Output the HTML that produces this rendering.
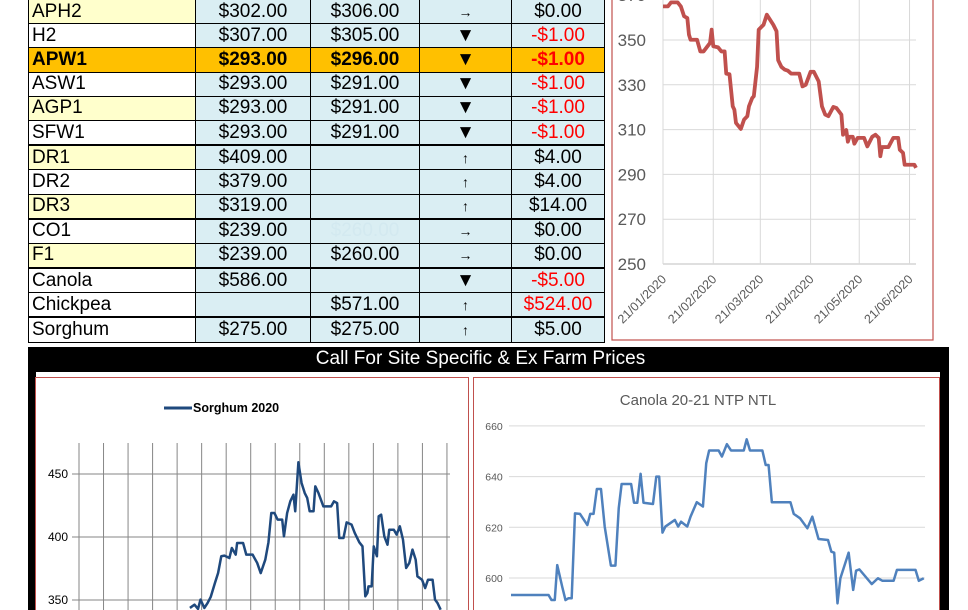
<!DOCTYPE html>
<html><head><meta charset="utf-8"><style>
body{margin:0;width:968px;height:610px;overflow:hidden;background:#fff;font-family:"Liberation Sans",sans-serif;position:relative}
#tbl{position:absolute;left:28px;top:-1px;border-collapse:collapse;table-layout:fixed}
#tbl td{border:1.5px solid #000;height:23.2px;padding:0;font-size:19px;line-height:20px;text-align:center;background:#daeef3;color:#000;overflow:hidden;white-space:nowrap}
#tbl td.n{text-align:left;padding-left:3px;background:#fff}
#tbl td.y{background:#ffffcc}
#tbl tr.hl td{background:#ffc000;font-weight:bold}
#tbl td.r{color:#f00}
#tbl td.a{font-size:14px}
#tbl tr.thick td{border-bottom:2.5px solid #000}
#bar{position:absolute;left:28px;top:347px;width:921px;height:263px;background:#000}
#bar .t{position:absolute;left:0;width:905px;top:1px;text-align:center;color:#fff;font-size:19px}
#inner{position:absolute;left:36px;top:372px;width:904px;height:238px;background:#fff}
svg{position:absolute}
</style></head><body>
<table id="tbl">
<colgroup><col style="width:167px"><col style="width:115px"><col style="width:109px"><col style="width:92px"><col style="width:93px"></colgroup>
<tr><td class="n y">APH2</td><td>$302.00</td><td>$306.00</td><td class="a">→</td><td>$0.00</td></tr>
<tr><td class="n">H2</td><td>$307.00</td><td>$305.00</td><td>▼</td><td class="r">-$1.00</td></tr>
<tr class="hl"><td class="n">APW1</td><td>$293.00</td><td>$296.00</td><td>▼</td><td class="r">-$1.00</td></tr>
<tr><td class="n">ASW1</td><td>$293.00</td><td>$291.00</td><td>▼</td><td class="r">-$1.00</td></tr>
<tr><td class="n y">AGP1</td><td>$293.00</td><td>$291.00</td><td>▼</td><td class="r">-$1.00</td></tr>
<tr class="thick"><td class="n">SFW1</td><td>$293.00</td><td>$291.00</td><td>▼</td><td class="r">-$1.00</td></tr>
<tr><td class="n y">DR1</td><td>$409.00</td><td></td><td class="a">↑</td><td>$4.00</td></tr>
<tr><td class="n">DR2</td><td>$379.00</td><td></td><td class="a">↑</td><td>$4.00</td></tr>
<tr class="thick"><td class="n y">DR3</td><td>$319.00</td><td></td><td class="a">↑</td><td>$14.00</td></tr>
<tr><td class="n">CO1</td><td>$239.00</td><td style="color:#d3e9f0">$260.00</td><td class="a">→</td><td>$0.00</td></tr>
<tr class="thick"><td class="n y">F1</td><td>$239.00</td><td>$260.00</td><td class="a">→</td><td>$0.00</td></tr>
<tr><td class="n">Canola</td><td>$586.00</td><td></td><td>▼</td><td class="r">-$5.00</td></tr>
<tr class="thick"><td class="n">Chickpea</td><td></td><td>$571.00</td><td class="a">↑</td><td class="r">$524.00</td></tr>
<tr><td class="n">Sorghum</td><td>$275.00</td><td>$275.00</td><td class="a">↑</td><td>$5.00</td></tr>
</table>

<svg id="c1" width="968" height="350" style="left:0;top:0"></svg>

<div id="bar"><div class="t">Call For Site Specific &amp; Ex Farm Prices</div></div>
<div id="inner"></div>
<svg id="c2" width="968" height="610" style="left:0;top:0"></svg>

<script>
// ---- Top right chart (APW1) ----
const apwDays=[0,3,5,9,11,13,15,16,17,21,23,25,29,30,31,34,36,38,39,41,43,44,45,48,50,52,53,55,56,58,59,62,64,68,70,71,73,75,77,79,84,86,88,91,93,96,98,100,102,105,107,110,111,113,114,115,117,118,120,124,126,129,131,133,134,135,139,142,145,146,148,149,155,156];
const apwVals=[365,365,366.8,366.8,365,360.6,359.8,352.4,350.1,350.1,344.9,344.9,348.7,354.6,347.2,346.7,344.9,344.9,335,334.7,320.4,318.9,313,310.3,314.5,316,320.4,324.1,324.9,338,354.6,356.8,361.3,356.8,353.9,341,338,336.8,336.3,335,335,329.3,330,335.8,335.8,331.5,320.4,316.7,316,320.1,319.6,316.7,307.7,309.8,304.6,306.8,306.8,303.7,306.3,306.3,302.5,306.8,307.7,306.3,298.1,302.2,302.2,306.3,306.3,301,299.6,294.3,294.3,292.9];
const apwTicks=[250,270,290,310,330,350,370];
const apwDateDays=[0,31,60,91,121,152];
const apwDateLabels=["21/01/2020","21/02/2020","21/03/2020","21/04/2020","21/05/2020","21/06/2020"];
const NS="http://www.w3.org/2000/svg";
function mk(svg,tag,attrs){const e=document.createElementNS(NS,tag);for(const k in attrs)e.setAttribute(k,attrs[k]);svg.appendChild(e);return e;}
(function(){
 const s=document.getElementById('c1');
 const x=d=>663+d*(253/156), y=v=>264-(v-250)*2.24;
 const fr=mk(s,'rect',{x:612,y:-2,width:321,height:342,fill:'#fff',stroke:'#c0504d','stroke-width':1.2});
 
 
 apwTicks.forEach(t=>{
  const g=mk(s,'line',{x1:663,x2:916,y1:y(t),y2:y(t),stroke:t==250?'#bfbfbf':'#d9d9d9','stroke-width':1});
  
  
  const l=mk(s,'text',{x:646,y:y(t)+6,'text-anchor':'end','font-size':17,fill:'#595959','font-family':'Liberation Sans, sans-serif'});
  l.textContent=t;
  
  
 });
 mk(s,'line',{x1:663,x2:663,y1:-5,y2:264,stroke:'#bfbfbf'});
 apwDateDays.forEach((d,i)=>{
  const g=mk(s,'line',{x1:x(d),x2:x(d),y1:-5,y2:264,stroke:'#d9d9d9'});
  
  
  const lx=x(d)+4, ly=280;
  const l=mk(s,'text',{x:lx,y:ly,'text-anchor':'end','font-size':12.5,fill:'#595959','font-family':'Liberation Sans, sans-serif',transform:`rotate(-45 ${lx} ${ly})`});
  l.textContent=apwDateLabels[i];
  
  
 });
 const p=mk(s,'polyline',{points:apwDays.map((d,i)=>x(d)+','+y(apwVals[i])).join(' '),fill:'none',stroke:'#c0504d','stroke-width':3.8,'stroke-linejoin':'round'});
 
 
})();

// ---- Sorghum chart ----
const sorDays=[31.5,32.8,33.8,34.5,35.6,36.5,37.4,38.6,39.5,40.4,41.3,42.7,43.4,44.5,44.9,46.6,47.5,49.3,50.6,51.6,52.9,53.8,54.6,55.5,56.4,57.7,58.2,59.1,60,60.9,61.4,62.3,63.2,64.1,64.8,65.5,66.6,67.1,68,69.4,71.6,72.4,73.3,73.9,75.1,76,77.4,78.3,79.6,80.5,81.3,81.9,82.2,83.1,83.7,84.6,85.1,85.8,86.7,87.6,88.1,89.4,90.2,91.1,92,92.9,93.8,94.7,95.6,96.1,97.4,98.3,99.1,100.4,101.1,101.8,102.7];
const sorVals=[343.7,346.3,342.9,350.3,343.7,347.6,352.4,363.5,371.4,384.7,385.2,383.3,391.3,386,395.2,395.2,386,386,379.4,371.4,382,395.8,419,419,413.8,413.8,400.5,419,428.3,433.6,420.4,459.3,442.9,434.9,431,420.4,420.4,440.2,434.9,424.3,424.3,428.3,426.9,399.2,399.2,411.6,409.8,403.2,395.8,392.6,352.9,355.6,360.8,360.8,392.6,384.7,416.4,417.7,400.5,393.9,405.8,405.8,401.9,408.5,397.9,375.4,379.4,390,382,368.8,366.1,359.5,366.1,366.1,350.3,347.6,342.3];
const sorTicks=[350,400,450];
// ---- Canola chart ----
const canDays=[0,9.1,9.8,10.6,11.2,12.4,13.2,13.9,14.7,15.5,16.7,18.5,19.2,20,20.8,21.8,22.7,24.2,25.3,26.1,26.8,29.1,29.8,30.6,31.4,32.1,34.4,35.2,35.9,36.7,37.4,39.7,40.5,41.2,42.7,43.5,45,46.5,47.3,48,50.3,51.1,52.3,53.3,56.4,57.1,57.9,60.9,61.7,62.4,63.2,67.7,68.5,70,71.8,73,74.5,76.8,77.6,78.3,79.1,79.8,81.8,82.9,83.6,84.4,87.4,88.9,90,92.7,93.5,98,98.8,100];
const canVals=[593.3,593.3,591.3,591.3,605.1,596.6,591.3,592,592,625.5,625.3,620.9,625.3,625.3,635.1,635.1,620.3,604.9,604.9,627.5,637.1,637.1,629.7,629.7,641.1,629.7,629.2,640,640,617.9,620.3,622.9,620.3,622.2,620.3,624.2,629.9,628.2,645.3,650.3,650.3,647.9,652.8,650.3,650.3,654.7,650.3,650.3,644.6,644.6,629.9,629.9,625.3,623.6,619.6,624.2,615.4,615,610.4,610,590,599.9,610,595.3,602.9,603.4,597.6,599.9,598.9,598.9,603.2,603.2,598.9,599.9];
const canTicks=[600,620,640,660];
(function(){
 const s=document.getElementById('c2');
 function box(x,y,w,h,name){const r=mk(s,'rect',{x:x,y:y,width:w,height:h,fill:'#fff',stroke:'#c0504d','stroke-width':1});
  
  }
 box(35.5,377.5,433,240,'sorghum-chart-frame');
 box(473.5,377.5,466,240,'canola-chart-frame');
 // sorghum
 const sx=d=>79+d*(368/104.5), sy=v=>537-(v-400)*1.26;
 for(let i=0;i<=15;i++){const xx=79+i*24.53;
  const g=mk(s,'line',{x1:xx,x2:xx,y1:443,y2:612,stroke:'#868686','stroke-width':1});
  
  }
 sorTicks.forEach(t=>{
  const g=mk(s,'line',{x1:72,x2:450,y1:sy(t),y2:sy(t),stroke:'#868686','stroke-width':1});
  
  
  const l=mk(s,'text',{x:68,y:sy(t)+4,'text-anchor':'end','font-size':12,fill:'#000','font-family':'Liberation Sans, sans-serif'});
  l.textContent=t;
  
  
 });
 const lg=mk(s,'line',{x1:164,x2:192,y1:408,y2:408,stroke:'#1f497d','stroke-width':3});
 
 
 const lt=mk(s,'text',{x:193,y:412,'font-size':12.5,'font-weight':'bold',fill:'#000','font-family':'Liberation Sans, sans-serif'});
 lt.textContent='Sorghum 2020';
 
 
 const sp=mk(s,'polyline',{points:sorDays.map((d,i)=>sx(d)+','+sy(sorVals[i])).join(' '),fill:'none',stroke:'#1f497d','stroke-width':2.5,'stroke-linejoin':'round'});
 
 
 // canola
 const cx=d=>511+d*(414/100.3), cy=v=>578-(v-600)*2.535;
 const ct=mk(s,'text',{x:698,y:405,'text-anchor':'middle','font-size':15,fill:'#595959','font-family':'Liberation Sans, sans-serif'});
 ct.textContent='Canola 20-21 NTP NTL';
 
 
 canTicks.forEach(t=>{
  const g=mk(s,'line',{x1:509,x2:925,y1:cy(t),y2:cy(t),stroke:'#d9d9d9','stroke-width':1});
  
  
  const l=mk(s,'text',{x:494,y:cy(t)+4,'text-anchor':'middle','font-size':10.5,fill:'#595959','font-family':'Liberation Sans, sans-serif'});
  l.textContent=t;
  
  
 });
 const cp=mk(s,'polyline',{points:canDays.map((d,i)=>cx(d)+','+cy(canVals[i])).join(' '),fill:'none',stroke:'#4f81bd','stroke-width':2.5,'stroke-linejoin':'round'});
 
 
})();
</script>
</body></html>
